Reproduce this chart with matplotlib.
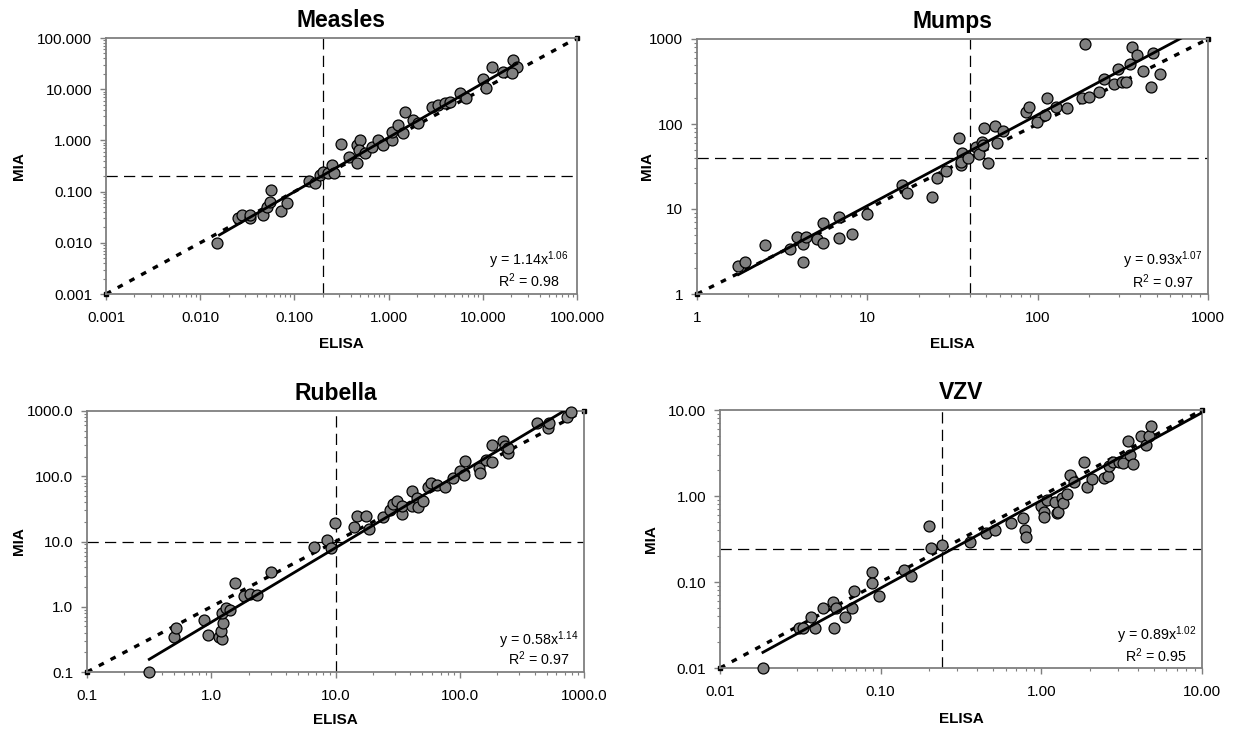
import matplotlib
matplotlib.use("Agg")
import matplotlib.pyplot as plt
import numpy as np
from matplotlib.ticker import LogLocator, FuncFormatter, NullFormatter

plt.rcParams["font.family"] = ["Liberation Sans", "DejaVu Sans"]
plt.rcParams["mathtext.default"] = "regular"

# ---- data ----
measles_elisa = [0.015, 0.025, 0.028, 0.034, 0.034, 0.046, 0.051, 0.055, 0.057, 0.072,
                 0.083, 0.144, 0.166, 0.187, 0.203, 0.229, 0.252, 0.263, 0.316, 0.38,
                 0.46, 0.466, 0.50, 0.48, 0.56, 0.66, 0.78, 0.88, 1.08, 1.08,
                 1.27, 1.43, 1.49, 1.83, 2.07, 2.86, 3.37, 4.0, 4.5, 5.7,
                 6.7, 10.0, 10.9, 12.4, 16.5, 21.0, 22.9, 20.3]
measles_mia = [0.010, 0.030, 0.035, 0.030, 0.035, 0.035, 0.051, 0.064, 0.107, 0.041,
               0.059, 0.163, 0.145, 0.211, 0.245, 0.228, 0.33, 0.234, 0.84, 0.48,
               0.36, 0.81, 1.02, 0.64, 0.56, 0.76, 1.02, 0.81, 1.02, 1.48,
               2.0, 1.38, 3.6, 2.5, 2.16, 4.5, 4.9, 5.3, 5.7, 8.3,
               6.6, 16.0, 10.4, 27.5, 21.9, 37.0, 27.5, 20.4]

mumps_elisa = [1.75, 1.91, 2.51, 3.52, 3.85, 4.17, 4.17, 4.37, 5.05, 5.47,
               5.47, 6.85, 6.85, 8.17, 9.9, 15.9, 17.2, 24.1, 25.6, 29.0,
               34.3, 35.8, 35.5, 35.5, 39.0, 43.5, 45.5, 47.0, 48.0, 48.6,
               51.4, 56.0, 57.5, 63.0, 85.5, 89.4, 99.6, 110, 113, 128,
               148, 181, 190, 201, 230, 245, 279, 298, 312, 330,
               349, 357, 385, 414, 463, 478, 523]
mumps_mia = [2.15, 2.36, 3.77, 3.36, 4.72, 3.87, 2.36, 4.64, 4.44, 6.8,
             3.95, 7.98, 4.52, 5.08, 8.73, 19.2, 15.5, 14.0, 23.0, 28.0,
             69.0, 45.9, 33.0, 36.0, 39.5, 54.0, 44.4, 62.0, 56.6, 89.0,
             35.0, 94.7, 59.0, 83.0, 140, 157, 106, 128, 200, 157,
             153, 200, 873, 210, 240, 336, 296, 441, 315, 315,
             504, 799, 649, 420, 275, 679, 384]

rubella_elisa = [0.317, 0.50, 0.52, 0.88, 0.95, 1.16, 1.21, 1.20, 1.24, 1.21,
                 1.31, 1.42, 1.55, 1.83, 2.05, 2.32, 3.0, 6.74, 8.49, 9.14,
                 9.96, 14.1, 14.8, 17.6, 18.7, 24.3, 27.5, 29.2, 31.4, 34.5,
                 34.1, 41.0, 41.0, 45.0, 46.4, 51.0, 55.9, 58.4, 65.3, 76.0,
                 88.8, 100, 108, 110, 143.6, 145.5, 162.6, 180.7, 180.7, 224,
                 231, 246, 246, 416, 516, 526, 727, 786]
rubella_mia = [0.1, 0.34, 0.48, 0.63, 0.37, 0.34, 0.32, 0.43, 0.57, 0.81,
               0.95, 0.89, 2.34, 1.46, 1.57, 1.51, 3.44, 8.15, 10.5, 7.87,
               19.0, 16.5, 24.6, 24.6, 15.4, 24.0, 30.4, 37.6, 42.3, 26.4,
               35.0, 60.0, 35.0, 45.9, 34.0, 42.0, 67.8, 79.6, 73.5, 67.8,
               93.0, 121.6, 104, 173, 132, 113, 177, 167, 301, 351,
               291, 225, 268, 647, 543, 662, 819, 975]

vzv_elisa = [0.0185, 0.0312, 0.033, 0.0366, 0.039, 0.0435, 0.0502, 0.0513, 0.0528, 0.060,
             0.0666, 0.0685, 0.0883, 0.0883, 0.0976, 0.14, 0.154, 0.199, 0.205, 0.24,
             0.36, 0.452, 0.514, 0.647, 0.77, 0.79, 0.80, 1.0, 1.04, 1.04,
             1.08, 1.22, 1.25, 1.27, 1.34, 1.37, 1.44, 1.51, 1.6, 1.84,
             1.93, 2.08, 2.45, 2.61, 2.65, 2.8, 3.06, 3.23, 3.56, 3.7,
             3.47, 4.2, 4.48, 4.7, 4.79]
vzv_mia = [0.01, 0.0294, 0.0294, 0.0395, 0.0294, 0.0494, 0.059, 0.0294, 0.0494, 0.0395,
           0.0494, 0.079, 0.13, 0.098, 0.069, 0.138, 0.118, 0.448, 0.25, 0.269,
           0.294, 0.374, 0.40, 0.49, 0.55, 0.40, 0.33, 0.766, 0.66, 0.57,
           0.90, 0.86, 0.63, 0.66, 0.94, 0.82, 1.05, 1.75, 1.47, 2.5,
           1.26, 1.56, 1.6, 1.71, 2.23, 2.5, 2.5, 2.44, 3.0, 2.34,
           4.4, 5.0, 3.92, 5.0, 6.5]

titles = ["Measles", "Mumps", "Rubella", "VZV"]
axis_ranges = [(0.001, 100), (1, 1000), (0.1, 1000), (0.01, 10)]
cutoffs = [0.2, 40, 10, 0.24]
fit_a = [1.14, 0.93, 0.58, 0.89]
fit_b = [1.06, 1.07, 1.14, 1.02]
fit_r2 = [0.98, 0.97, 0.97, 0.95]
fit_x_range = [(0.016, 23), (1.75, 700), (0.317, 790), (0.0185, 10)]
tick_formats = ["%.3f", "%d", "%.1f", "%.2f"]

elisa_all = [measles_elisa, mumps_elisa, rubella_elisa, vzv_elisa]
mia_all = [measles_mia, mumps_mia, rubella_mia, vzv_mia]

# axes boxes in pixel units of the 1238x731 picture: left, top, right, bottom
W, H = 1238, 731
boxes = [(106, 38, 577, 294), (697, 39, 1208, 294), (87, 411, 584, 672), (720, 410, 1202, 668)]
ylabel_px = [26, 654, 26, 658]    # right edge of rotated "MIA"
xlabel_px = [43, 43, 41, 44]      # gap from axis to top of "ELISA"
# equation block: x centre, baseline of "y = ..." and of "R2 = ..." (axes fraction)
eq_pos = [(0.898, 0.113, 0.027), (0.912, 0.114, 0.024), (0.909, 0.103, 0.027), (0.905, 0.109, 0.024)]

grey = "#7f7f7f"

fig = plt.figure(figsize=(W / 100, H / 100), dpi=100)

for i in range(4):
    l, t, r, b = boxes[i]
    ax = fig.add_axes([l / W, 1 - b / H, (r - l) / W, (b - t) / H])
    lo, hi = axis_ranges[i]
    ax.set_xscale("log")
    ax.set_yscale("log")
    ax.set_xlim(lo, hi)
    ax.set_ylim(lo, hi)

    # cut-off lines
    ax.axvline(cutoffs[i], color="black", lw=0.9, ls=(0, (9, 5)), zorder=1)
    ax.axhline(cutoffs[i], color="black", lw=0.9, ls=(0, (9, 5)), zorder=1)

    # line of identity
    ax.plot([lo, hi], [lo, hi], color="black", lw=2.4, ls=(0, (1.7, 2.3)),
            marker="s", markersize=3.5, clip_on=False, zorder=2)

    ax.scatter(elisa_all[i], mia_all[i], s=62, facecolor="#808080", edgecolor="black",
               linewidth=0.9, clip_on=False, zorder=3)

    # power trend line
    fx = np.logspace(np.log10(fit_x_range[i][0]), np.log10(fit_x_range[i][1]), 50)
    ax.plot(fx, fit_a[i] * fx ** fit_b[i], color="black", lw=2.0, zorder=4)

    ex, ey1, ey2 = eq_pos[i]
    ax.text(ex, ey1, "y = %.2fx$^{%.2f}$" % (fit_a[i], fit_b[i]), transform=ax.transAxes,
            ha="center", va="baseline", fontsize=10.3)
    ax.text(ex, ey2, "R$^{2}$ = %.2f" % fit_r2[i], transform=ax.transAxes,
            ha="center", va="baseline", fontsize=10.3)

    ax.xaxis.set_major_locator(LogLocator(base=10, numticks=10))
    ax.yaxis.set_major_locator(LogLocator(base=10, numticks=10))
    ax.xaxis.set_minor_locator(LogLocator(base=10, subs=np.arange(2, 10), numticks=20))
    ax.yaxis.set_minor_locator(LogLocator(base=10, subs=np.arange(2, 10), numticks=20))
    fmt = FuncFormatter(lambda v, p, f=tick_formats[i]: f % v)
    ax.xaxis.set_major_formatter(fmt)
    ax.yaxis.set_major_formatter(fmt)
    ax.xaxis.set_minor_formatter(NullFormatter())
    ax.yaxis.set_minor_formatter(NullFormatter())

    ax.tick_params(which="major", length=4, width=1, color=grey, labelsize=11)
    ax.tick_params(axis="x", which="major", pad=8)
    ax.tick_params(axis="y", which="major", pad=6)
    ax.tick_params(which="minor", length=2.5, width=0.8, color=grey)
    for sp in ax.spines.values():
        sp.set_color(grey)
        sp.set_linewidth(1.3)

    ax.set_title(titles[i], fontsize=16.5, fontweight="bold", pad=8)
    ax.set_xlabel("ELISA", fontsize=11, fontweight="bold")
    ax.set_ylabel("MIA", fontsize=11, fontweight="bold")
    ax.xaxis.set_label_coords(0.5, -xlabel_px[i] / (b - t))
    ax.yaxis.set_label_coords((ylabel_px[i] - l) / (r - l), 0.5)

fig.savefig("out.png", dpi=100)
